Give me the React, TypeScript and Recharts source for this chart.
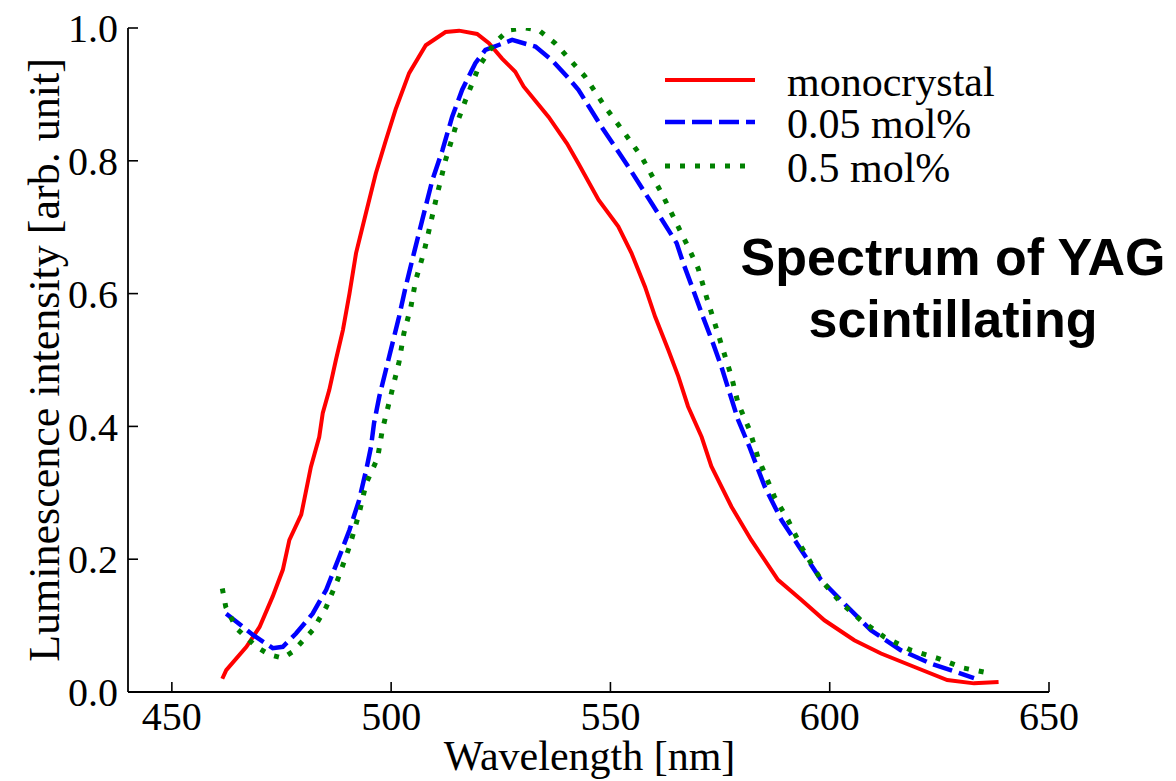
import React from 'react';
import { LineChart, Line, XAxis, YAxis, Legend, Label } from 'recharts';

// ---- data ----
const monoWavelength = [461.5, 462.4, 467.0, 470.0, 473.0, 475.3, 476.8, 479.5, 481.7, 483.6, 484.4, 485.9, 487.4, 489.0, 490.5, 492.0, 494.2, 496.5, 498.8, 501.0, 504.1, 507.9, 512.4, 515.5, 519.6, 522.3, 525.3, 528.3, 530.2, 535.9, 540.1, 542.7, 547.3, 551.8, 554.8, 557.9, 560.2, 563.2, 565.5, 567.7, 570.8, 573.0, 577.6, 582.1, 588.2, 593.5, 598.8, 605.6, 611.7, 619.2, 626.8, 632.9, 638.5];
const monoIntensity = [0.020, 0.033, 0.068, 0.098, 0.144, 0.184, 0.229, 0.267, 0.339, 0.384, 0.420, 0.455, 0.500, 0.545, 0.600, 0.661, 0.720, 0.781, 0.831, 0.877, 0.932, 0.974, 0.994, 0.996, 0.991, 0.977, 0.954, 0.934, 0.912, 0.866, 0.826, 0.796, 0.741, 0.701, 0.661, 0.610, 0.565, 0.515, 0.475, 0.430, 0.384, 0.340, 0.279, 0.229, 0.169, 0.139, 0.108, 0.078, 0.058, 0.038, 0.018, 0.013, 0.015];

const lowWavelength = [462.4, 468.5, 473.0, 475.3, 478.3, 482.1, 485.2, 488.2, 490.5, 492.7, 494.4, 495.4, 496.1, 497.3, 498.8, 500.3, 501.8, 503.3, 505.2, 507.1, 509.4, 511.7, 513.9, 516.2, 519.2, 521.5, 527.6, 532.9, 536.6, 540.1, 542.7, 548.0, 554.1, 559.4, 563.2, 565.1, 566.6, 568.9, 571.1, 573.4, 575.3, 577.2, 579.1, 581.7, 585.2, 589.0, 593.5, 598.0, 604.1, 609.4, 616.2, 623.0, 632.9];
const lowIntensity = [0.118, 0.086, 0.066, 0.068, 0.088, 0.118, 0.154, 0.204, 0.244, 0.289, 0.337, 0.369, 0.405, 0.445, 0.485, 0.525, 0.565, 0.610, 0.661, 0.711, 0.771, 0.816, 0.866, 0.907, 0.947, 0.967, 0.982, 0.972, 0.952, 0.927, 0.907, 0.851, 0.791, 0.736, 0.696, 0.676, 0.646, 0.605, 0.565, 0.525, 0.490, 0.450, 0.410, 0.369, 0.309, 0.259, 0.214, 0.169, 0.128, 0.093, 0.063, 0.043, 0.021];

const highWavelength = [461.5, 462.3, 464.7, 469.3, 472.3, 475.3, 477.6, 482.1, 485.2, 487.8, 490.5, 492.7, 494.3, 496.9, 498.0, 499.5, 501.8, 502.9, 504.5, 505.6, 507.5, 509.0, 510.2, 512.4, 514.7, 517.0, 520.0, 523.8, 526.8, 530.5, 533.6, 537.4, 544.2, 548.8, 553.3, 557.1, 561.7, 565.8, 567.3, 570.0, 571.9, 573.8, 575.7, 577.6, 579.1, 581.7, 583.6, 587.4, 590.5, 593.5, 598.0, 602.6, 607.1, 612.4, 618.5, 624.5, 630.6, 636.7];
const highIntensity = [0.156, 0.128, 0.096, 0.068, 0.056, 0.051, 0.061, 0.093, 0.128, 0.169, 0.219, 0.269, 0.314, 0.352, 0.395, 0.435, 0.497, 0.540, 0.580, 0.620, 0.663, 0.706, 0.741, 0.801, 0.851, 0.892, 0.942, 0.979, 0.997, 1.000, 0.997, 0.977, 0.927, 0.881, 0.841, 0.806, 0.751, 0.696, 0.676, 0.638, 0.595, 0.555, 0.515, 0.475, 0.435, 0.395, 0.354, 0.294, 0.259, 0.219, 0.169, 0.134, 0.108, 0.083, 0.063, 0.051, 0.036, 0.028];

const xTicks = [450, 500, 550, 600, 650];
const yTicks = [0, 0.2, 0.4, 0.6, 0.8, 1.0];
const seriesNames = ['monocrystal', '0.05 mol%', '0.5 mol%'];
const xLabelText = 'Wavelength [nm]';
const yLabelText = 'Luminescence intensity [arb. unit]';
const annotationLines = ['Spectrum of YAG', 'scintillating'];

const toPoints = (xs: number[], ys: number[]) => xs.map((x, i) => ({ x, y: ys[i] }));
const monoData = toPoints(monoWavelength, monoIntensity);
const lowData = toPoints(lowWavelength, lowIntensity);
const highData = toPoints(highWavelength, highIntensity);

const SERIF = '"Liberation Serif", "DejaVu Serif", serif';
const SANS = '"Liberation Sans", Arial, sans-serif';

const legendStyles = [
  { color: '#ff0000', dash: undefined as string | undefined, width: 4 },
  { color: '#0000ff', dash: '20 7', width: 4.5 },
  { color: '#008000', dash: '5 10', width: 5 },
];

const renderLegend = () => (
  <div style={{ fontFamily: SERIF, fontSize: 42, color: '#000', lineHeight: '42px' }}>
    {seriesNames.map((name, i) => (
      <div key={name} style={{ display: 'flex', alignItems: 'flex-start', height: i === 0 ? 42 : 44 }}>
        <svg width={100} height={42} style={{ display: 'block' }}>
          <line x1={0} x2={90} y1={19} y2={19} stroke={legendStyles[i].color} strokeWidth={legendStyles[i].width} strokeDasharray={legendStyles[i].dash} />
        </svg>
        <span style={{ marginLeft: 22, whiteSpace: 'nowrap' }}>{name}</span>
      </div>
    ))}
  </div>
);

const renderYLabel = (props: any) => {
  const vb = props.viewBox || {};
  const cx = (vb.x ?? 0) + 44;
  const cy = (vb.y ?? 0) + (vb.height ?? 0) / 2;
  return (
    <text x={cx} y={cy} transform={`rotate(-90 ${cx} ${cy})`} textAnchor="middle" dominantBaseline="central" fontFamily={SERIF} fontSize={44} fill="#000">
      {yLabelText}
    </text>
  );
};

const renderXLabel = (props: any) => {
  const vb = props.viewBox || {};
  const cx = (vb.x ?? 0) + (vb.width ?? 0) / 2 + 1;
  const by = (vb.y ?? 0) + 78;
  return (
    <text x={cx} y={by} textAnchor="middle" fontFamily={SERIF} fontSize={42} fill="#000">
      {xLabelText}
    </text>
  );
};

export default function App() {
  return (
    <div style={{ position: 'absolute', left: 0, top: 0, width: 1176, height: 781, background: '#fff', overflow: 'hidden' }}>
      <LineChart width={1176} height={781} margin={{ top: 28, right: 127, bottom: 0, left: 0 }} style={{ fontFamily: SERIF }}>
        <XAxis
          dataKey="x"
          type="number"
          domain={[440, 650]}
          ticks={xTicks}
          allowDataOverflow
          height={89}
          tickSize={-10}
          tickMargin={20}
          tick={{ fontSize: 40, fill: '#000', fontFamily: SERIF }}
          tickLine={{ stroke: '#000', strokeWidth: 1.6 }}
          axisLine={{ stroke: '#000', strokeWidth: 1.8 }}
        >
          <Label content={renderXLabel} />
        </XAxis>
        <XAxis
          xAxisId="top"
          orientation="top"
          dataKey="x"
          type="number"
          domain={[440, 650]}
          height={0}
          tick={false}
          tickLine={false}
          axisLine={{ stroke: '#000', strokeWidth: 1.8 }}
        />
        <YAxis
          type="number"
          domain={[0, 1]}
          ticks={yTicks}
          allowDataOverflow
          width={128}
          tickSize={-10}
          tickMargin={20}
          tickFormatter={(v: number) => v.toFixed(1)}
          tick={{ fontSize: 40, fill: '#000', fontFamily: SERIF }}
          tickLine={{ stroke: '#000', strokeWidth: 1.6 }}
          axisLine={{ stroke: '#000', strokeWidth: 1.8 }}
        >
          <Label content={renderYLabel} />
        </YAxis>
        <YAxis
          yAxisId="right"
          orientation="right"
          type="number"
          domain={[0, 1]}
          width={0}
          tick={false}
          tickLine={false}
          axisLine={{ stroke: '#000', strokeWidth: 1.8 }}
        />
        <Line data={monoData} dataKey="y" name={seriesNames[0]} stroke="#ff0000" strokeWidth={4} dot={false} type="linear" isAnimationActive={false} />
        <Line data={lowData} dataKey="y" name={seriesNames[1]} stroke="#0000ff" strokeWidth={4.5} strokeDasharray="20 7" dot={false} type="linear" isAnimationActive={false} />
        <Line data={highData} dataKey="y" name={seriesNames[2]} stroke="#008000" strokeWidth={5} strokeDasharray="5 10" dot={false} type="linear" isAnimationActive={false} />
        <Legend content={renderLegend} layout="vertical" verticalAlign="middle" align="center" wrapperStyle={{ position: 'absolute', left: 665, top: 61, width: 400 }} />
      </LineChart>
      <div style={{ position: 'absolute', left: 703, top: 226, width: 500, textAlign: 'center', fontFamily: SANS, fontWeight: 'bold', fontSize: 52, lineHeight: '62px', color: '#000' }}>
        {annotationLines.map((t) => (
          <div key={t}>{t}</div>
        ))}
      </div>
    </div>
  );
}
